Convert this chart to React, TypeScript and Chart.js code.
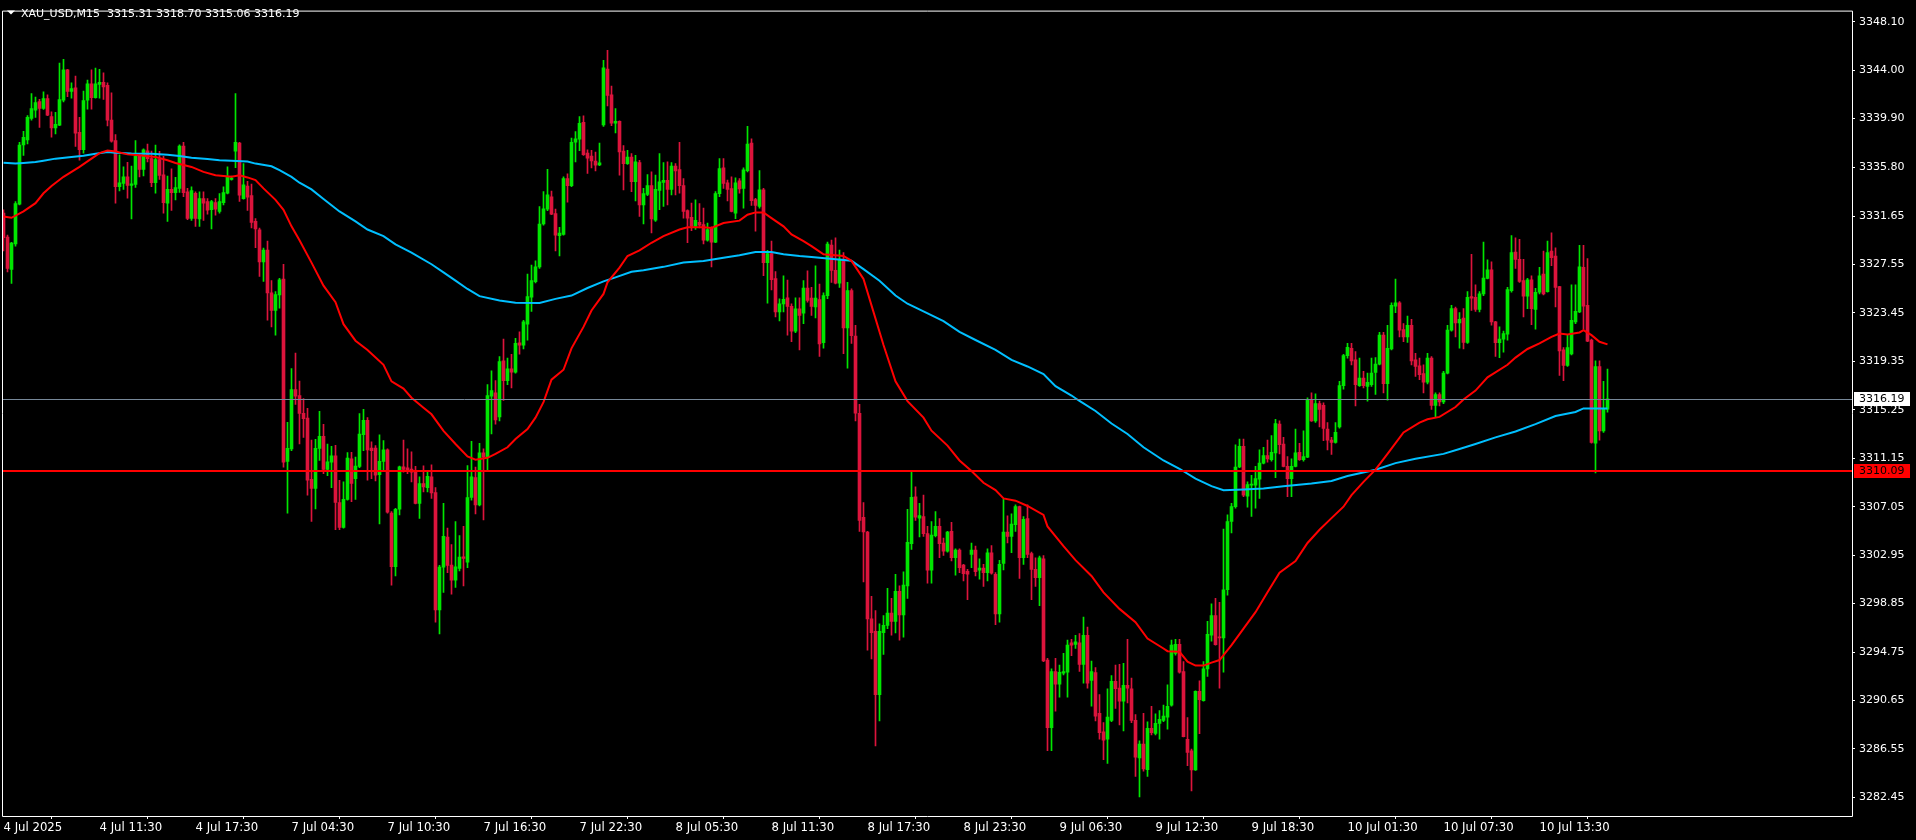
import React, { useEffect, useRef } from "react";
import { Chart, registerables } from "chart.js";

Chart.register(...registerables);

const symbolName = "XAU_USD,M15";

const opens = [
3331.90,3329.86,3327.13,3329.30,3332.65,3337.68,3338.10,3339.91,3340.61,3341.34,
3340.75,3341.59,3340.08,3339.10,3339.35,3341.45,3344.02,3342.20,3342.51,3338.74,
3337.26,3341.45,3342.84,3341.67,3342.79,3342.96,3342.71,3339.77,3338.04,3334.13,
3334.41,3334.97,3334.25,3334.33,3336.70,3335.59,3337.18,3336.51,3334.47,3336.42,
3335.14,3332.74,3333.91,3333.63,3333.99,3337.57,3333.69,3331.45,3333.58,3331.40,
3333.13,3332.88,3332.18,3332.79,3332.04,3332.79,3333.58,3334.75,3337.15,3337.82,
3333.13,3334.19,3333.38,3331.20,3330.48,3327.77,3328.77,3325.15,3323.67,3324.98,
3326.32,3310.88,3311.94,3316.97,3316.46,3314.95,3314.54,3309.37,3308.59,3311.99,
3313.00,3310.21,3310.82,3311.35,3307.39,3305.30,3307.67,3311.10,3309.43,3310.46,
3313.14,3314.37,3312.02,3312.02,3309.76,3310.88,3311.86,3306.50,3301.97,3306.83,
3310.43,3310.35,3310.24,3310.07,3307.33,3309.01,3308.67,3309.57,3308.25,3298.31,
3301.94,3304.48,3302.11,3300.83,3301.83,3302.81,3302.36,3307.83,3309.51,3307.19,
3311.60,3311.19,3316.41,3316.69,3314.65,3319.39,3317.72,3318.72,3318.44,3320.93,
3320.73,3322.49,3324.78,3326.10,3327.35,3330.98,3332.24,3333.27,3331.87,3330.00,
3330.09,3334.83,3334.22,3337.90,3338.16,3339.58,3336.98,3336.73,3336.31,3335.98,
3339.36,3344.10,3341.92,3339.52,3339.66,3337.15,3336.09,3336.65,3334.55,3336.17,
3332.60,3333.49,3334.22,3331.31,3333.83,3334.50,3334.67,3333.91,3335.89,3335.59,
3334.22,3332.12,3331.54,3330.78,3331.12,3330.92,3329.61,3330.64,3329.44,3333.55,
3335.73,3334.47,3333.97,3331.90,3334.64,3333.99,3335.50,3337.82,3333.05,3332.46,
3333.88,3327.71,3328.47,3326.35,3323.53,3324.22,3324.73,3324.00,3321.91,3323.80,
3323.44,3325.56,3324.70,3323.95,3324.59,3320.93,3324.92,3329.20,3327.05,3325.96,
3328.00,3322.19,3325.34,3321.49,3314.96,3306.16,3304.91,3297.56,3296.50,3291.14,
3296.39,3297.00,3298.04,3297.34,3299.88,3297.90,3300.35,3303.93,3307.89,3306.08,
3306.22,3304.77,3301.67,3304.60,3305.38,3303.98,3303.29,3304.96,3302.73,3303.37,
3302.11,3301.58,3303.01,3303.37,3301.67,3301.86,3301.47,3303.15,3301.33,3297.98,
3302.25,3304.91,3304.54,3305.52,3307.06,3302.73,3306.05,3303.09,3301.75,3301.05,
3302.64,3294.07,3288.35,3293.10,3292.03,3292.96,3293.04,3295.52,3295.39,3295.52,
3293.71,3296.17,3292.34,3293.01,3289.55,3287.99,3287.37,3288.96,3292.26,3291.70,
3290.58,3291.92,3291.64,3288.96,3285.78,3286.95,3284.80,3288.29,3287.87,3288.71,
3288.96,3289.24,3290.25,3294.63,3295.41,3293.10,3287.37,3286.39,3284.78,3291.42,
3290.64,3293.32,3296.17,3297.84,3296.03,3295.94,3300.02,3305.80,3307.06,3310.41,
3312.16,3307.95,3308.87,3308.87,3309.37,3310.74,3311.38,3311.02,3311.61,3314.04,
3312.36,3310.46,3309.43,3310.46,3311.66,3311.02,3311.24,3316.05,3314.31,3315.77,
3315.62,3313.62,3312.69,3312.50,3313.81,3317.30,3319.84,3320.46,3319.48,3317.30,
3317.94,3317.24,3317.38,3318.42,3319.12,3321.57,3317.47,3320.40,3324.03,3324.31,
3322.05,3321.43,3322.41,3319.48,3318.98,3318.31,3317.58,3319.62,3315.63,3316.55,
3315.91,3318.36,3321.99,3323.81,3322.61,3323.02,3320.96,3324.84,3324.78,3323.75,
3325.06,3326.37,3327.10,3322.69,3320.93,3321.24,3321.66,3325.34,3328.61,3327.99,
3326.18,3324.87,3326.26,3323.75,3325.20,3326.74,3325.26,3328.69,3328.27,3325.68,
3320.32,3319.00,3319.98,3322.69,3323.53,3327.30,3324.09,3321.15,3312.42,3318.92,
3313.47,3315.31
];

const highs = [
3332.18,3330.03,3329.42,3332.88,3337.90,3338.82,3340.16,3342.01,3341.73,3341.53,
3342.17,3341.92,3340.47,3340.42,3344.60,3344.91,3344.07,3342.93,3343.49,3340.00,
3342.23,3343.15,3344.02,3344.18,3344.07,3343.77,3342.93,3342.09,3338.54,3336.84,
3335.81,3336.20,3335.89,3338.04,3336.87,3337.34,3337.74,3337.15,3337.65,3337.12,
3336.70,3335.03,3335.64,3334.92,3337.68,3337.90,3333.99,3334.13,3333.69,3333.71,
3333.69,3333.13,3332.99,3333.13,3333.55,3334.13,3335.81,3335.03,3342.01,3337.90,
3336.09,3334.58,3334.36,3331.43,3330.64,3328.94,3329.53,3326.18,3325.26,3326.37,
3327.57,3314.20,3318.75,3320.06,3317.69,3316.21,3315.37,3312.69,3312.75,3315.12,
3314.03,3312.36,3312.16,3312.25,3309.29,3309.15,3311.63,3311.66,3311.24,3314.93,
3315.29,3314.59,3312.55,3312.22,3313.14,3312.64,3311.94,3306.63,3306.91,3310.49,
3312.69,3311.94,3311.69,3310.46,3309.57,3310.51,3309.96,3310.60,3308.67,3302.08,
3307.33,3305.24,3303.84,3305.80,3304.60,3305.38,3310.54,3312.58,3310.40,3312.41,
3311.94,3317.38,3318.56,3317.72,3319.76,3321.24,3319.62,3319.95,3321.29,3321.85,
3322.83,3326.74,3327.49,3327.85,3332.46,3333.72,3335.61,3333.77,3332.24,3330.70,
3334.97,3335.22,3338.24,3338.80,3340.08,3340.14,3337.26,3337.21,3337.07,3337.82,
3344.83,3345.67,3342.65,3340.75,3339.72,3337.62,3337.21,3336.93,3336.79,3336.37,
3334.00,3335.17,3335.39,3335.11,3336.93,3336.17,3336.23,3336.17,3336.09,3337.90,
3334.83,3332.18,3332.74,3333.02,3332.71,3332.32,3331.06,3330.73,3333.72,3336.51,
3336.51,3334.69,3334.97,3334.89,3334.83,3335.73,3339.24,3338.18,3333.16,3335.50,
3334.00,3328.75,3329.53,3326.96,3324.64,3326.60,3326.23,3324.22,3324.73,3324.73,
3326.18,3327.02,3325.62,3327.44,3325.90,3325.15,3329.45,3329.61,3329.81,3328.78,
3328.55,3326.04,3325.48,3322.41,3315.71,3307.39,3304.96,3299.46,3298.26,3297.14,
3297.84,3300.13,3299.29,3301.33,3300.35,3301.53,3306.83,3310.07,3308.73,3307.33,
3308.03,3305.38,3305.80,3306.64,3306.05,3304.40,3304.96,3305.72,3303.48,3303.48,
3302.17,3301.75,3303.98,3303.71,3302.64,3302.17,3303.48,3303.76,3301.47,3302.50,
3307.67,3306.27,3306.44,3307.20,3307.11,3306.22,3307.20,3303.20,3302.73,3302.87,
3302.92,3294.21,3293.32,3294.21,3293.65,3294.63,3295.75,3295.83,3296.17,3296.31,
3297.70,3296.86,3293.99,3293.43,3291.14,3288.77,3291.64,3292.76,3293.65,3293.71,
3293.79,3295.83,3292.54,3289.46,3287.23,3289.55,3288.85,3290.16,3289.52,3289.80,
3290.25,3291.98,3295.75,3295.83,3295.83,3293.93,3289.19,3286.53,3291.47,3292.31,
3293.93,3297.34,3298.82,3299.29,3298.96,3305.16,3306.36,3307.34,3312.28,3312.78,
3312.78,3309.15,3309.71,3310.46,3311.86,3312.08,3312.69,3313.06,3314.45,3314.31,
3312.92,3311.30,3311.10,3313.62,3312.42,3313.48,3316.27,3316.69,3316.61,3315.99,
3315.85,3314.18,3312.92,3314.18,3317.66,3319.95,3320.87,3320.87,3320.17,3319.62,
3318.50,3318.36,3319.62,3319.67,3321.80,3321.80,3322.41,3324.31,3326.32,3324.42,
3322.55,3323.19,3322.91,3320.04,3319.62,3319.06,3320.04,3319.76,3316.69,3316.69,
3318.50,3322.41,3324.09,3323.95,3323.47,3323.81,3325.26,3328.41,3325.82,3325.26,
3329.45,3327.94,3327.77,3322.74,3322.27,3321.91,3325.62,3330.00,3329.81,3329.67,
3327.99,3326.37,3326.60,3325.54,3327.30,3328.69,3329.53,3330.23,3328.97,3325.70,
3320.51,3321.57,3325.82,3325.82,3329.17,3329.17,3328.05,3321.24,3319.39,3319.39,
3317.66,3318.70
];

const lows = [
3328.69,3326.93,3325.95,3329.11,3332.60,3336.79,3337.76,3339.77,3340.00,3339.16,
3340.67,3340.14,3338.32,3338.60,3339.30,3341.31,3341.76,3341.62,3337.54,3336.37,
3336.98,3340.69,3340.69,3341.62,3341.62,3341.53,3339.27,3337.90,3332.74,3333.77,
3333.91,3333.16,3331.40,3334.08,3334.97,3335.05,3336.23,3334.13,3333.58,3334.75,
3331.90,3331.20,3332.12,3333.02,3333.66,3333.30,3331.34,3331.29,3330.78,3330.78,
3331.29,3331.82,3330.56,3331.73,3331.90,3332.60,3333.52,3334.69,3335.75,3332.88,
3333.07,3332.12,3330.64,3328.97,3326.54,3326.12,3322.83,3322.27,3321.57,3323.86,
3310.40,3306.50,3311.80,3315.71,3312.36,3312.92,3308.03,3305.80,3306.86,3310.96,
3309.85,3309.68,3308.67,3305.10,3305.10,3305.24,3307.61,3307.47,3307.67,3310.35,
3311.80,3309.29,3309.43,3309.23,3305.60,3310.07,3306.50,3300.41,3301.19,3306.35,
3309.98,3309.85,3309.15,3307.28,3306.05,3308.31,3308.31,3307.75,3297.28,3296.28,
3299.79,3301.47,3299.65,3300.21,3301.61,3300.35,3301.89,3307.61,3306.44,3307.11,
3305.94,3310.12,3313.20,3314.03,3314.31,3316.04,3317.38,3317.10,3318.36,3319.95,
3320.40,3321.15,3323.58,3325.98,3327.21,3330.87,3332.10,3331.76,3328.69,3328.27,
3330.03,3332.82,3334.13,3336.23,3337.18,3336.79,3335.25,3335.73,3335.47,3335.92,
3339.24,3340.98,3339.30,3338.69,3335.11,3333.86,3336.01,3333.72,3332.93,3331.62,
3330.98,3333.38,3330.23,3331.20,3332.18,3332.46,3332.60,3333.44,3333.44,3333.58,
3331.48,3329.39,3330.42,3330.51,3330.64,3329.30,3329.53,3327.35,3329.39,3333.30,
3333.99,3332.93,3331.99,3331.43,3333.58,3332.32,3335.39,3332.54,3330.37,3332.32,
3326.60,3324.28,3325.40,3323.11,3322.77,3323.53,3321.57,3321.01,3321.77,3320.31,
3322.55,3324.36,3323.25,3323.03,3319.76,3320.46,3324.65,3326.04,3325.90,3325.62,
3320.01,3318.78,3320.88,3314.31,3304.96,3300.69,3294.91,3294.16,3286.81,3288.91,
3294.55,3296.73,3296.17,3296.36,3295.75,3296.00,3299.29,3303.43,3305.88,3304.49,
3304.54,3300.58,3300.58,3304.49,3302.73,3302.92,3303.20,3302.45,3301.25,3301.47,
3300.77,3299.18,3301.89,3301.19,3300.91,3300.30,3300.77,3301.33,3297.06,3297.28,
3301.70,3303.98,3303.15,3304.96,3300.97,3302.17,3302.73,3299.18,3300.30,3298.68,
3293.93,3286.39,3286.39,3289.75,3290.92,3292.82,3290.92,3294.44,3295.05,3293.10,
3292.12,3291.70,3290.16,3288.91,3287.37,3285.64,3285.33,3288.85,3289.97,3288.57,
3288.07,3290.44,3288.77,3284.22,3282.48,3284.66,3284.22,3287.73,3287.73,3287.37,
3288.85,3288.21,3290.16,3294.49,3292.95,3287.57,3285.14,3282.99,3284.72,3287.84,
3290.58,3292.68,3295.66,3295.33,3291.70,3293.04,3299.57,3304.82,3306.92,3310.35,
3307.90,3307.00,3306.22,3306.92,3307.75,3310.68,3310.82,3310.91,3309.51,3311.52,
3310.41,3307.90,3307.90,3310.41,3310.97,3310.91,3311.19,3314.26,3314.18,3313.81,
3312.64,3311.86,3311.47,3312.42,3313.70,3317.00,3319.62,3319.06,3315.57,3317.24,
3317.10,3315.99,3317.24,3316.55,3319.06,3316.69,3316.07,3320.32,3323.47,3321.43,
3321.01,3320.96,3319.06,3318.08,3317.80,3316.69,3317.44,3315.29,3314.65,3315.57,
3315.77,3318.28,3321.91,3321.43,3320.46,3320.40,3320.87,3323.66,3323.58,3323.53,
3324.92,3326.32,3322.41,3319.76,3319.67,3320.12,3321.15,3325.20,3327.21,3326.04,
3323.11,3323.81,3322.46,3322.08,3325.06,3324.98,3325.20,3327.44,3323.95,3318.17,
3317.72,3318.92,3319.90,3322.55,3323.47,3322.08,3321.01,3312.42,3309.90,3312.69,
3313.34,3315.06
];

const closes = [
3329.81,3327.21,3329.36,3332.71,3337.65,3338.32,3340.00,3340.75,3341.25,3340.75,
3341.59,3340.19,3339.10,3339.41,3341.50,3344.02,3342.20,3342.43,3338.66,3337.26,
3341.42,3342.84,3341.67,3342.84,3342.96,3342.59,3339.77,3337.99,3334.13,3334.47,
3334.97,3334.25,3334.38,3336.70,3335.59,3337.26,3336.51,3334.47,3336.42,3335.08,
3332.79,3333.91,3333.63,3334.05,3337.57,3333.63,3331.45,3333.80,3331.45,3333.13,
3332.74,3332.15,3332.88,3332.24,3332.88,3333.63,3334.97,3334.86,3337.90,3333.41,
3334.30,3333.24,3331.12,3330.56,3327.77,3328.77,3325.14,3323.67,3325.01,3326.26,
3310.82,3311.99,3316.97,3316.41,3314.95,3314.51,3309.29,3308.59,3311.99,3313.00,
3310.21,3310.85,3311.35,3307.42,3305.30,3307.67,3311.16,3309.01,3310.49,3313.20,
3314.37,3311.86,3311.80,3309.71,3310.90,3311.86,3306.58,3301.97,3306.83,3310.43,
3310.21,3310.12,3309.98,3307.33,3309.01,3308.73,3309.62,3308.22,3298.31,3301.94,
3304.54,3302.08,3300.83,3301.97,3302.78,3302.67,3307.83,3309.57,3307.19,3311.60,
3311.24,3316.46,3316.88,3314.40,3319.34,3317.72,3318.72,3318.44,3320.87,3320.73,
3322.69,3324.84,3326.18,3327.35,3330.98,3332.26,3333.44,3331.82,3330.03,3330.20,
3334.83,3334.22,3337.90,3338.18,3339.50,3336.84,3336.56,3336.31,3335.95,3336.15,
3344.19,3341.87,3339.52,3339.66,3337.07,3336.09,3336.65,3334.55,3336.23,3332.60,
3333.55,3334.22,3331.40,3333.91,3334.55,3334.67,3333.91,3335.89,3335.47,3334.22,
3332.04,3331.48,3330.78,3331.29,3330.87,3329.61,3330.51,3329.44,3333.55,3335.67,
3334.41,3333.91,3332.04,3334.47,3333.94,3335.56,3337.74,3332.96,3332.54,3333.88,
3327.71,3328.47,3326.26,3323.53,3324.22,3324.61,3324.00,3321.91,3323.80,3323.25,
3325.56,3324.50,3324.00,3324.70,3320.82,3324.92,3329.28,3327.05,3325.96,3328.00,
3322.19,3325.34,3321.52,3314.96,3305.88,3304.91,3297.56,3296.39,3291.14,3296.50,
3297.00,3298.04,3297.34,3299.88,3297.90,3300.41,3304.04,3307.84,3306.16,3306.30,
3304.77,3301.67,3304.65,3305.38,3303.93,3303.29,3304.91,3302.73,3303.37,3301.89,
3301.39,3301.33,3303.37,3301.56,3301.86,3301.47,3303.15,3301.42,3297.98,3302.17,
3304.91,3304.54,3305.58,3307.06,3302.73,3305.99,3303.01,3301.75,3301.05,3302.73,
3293.99,3288.35,3293.10,3292.03,3293.04,3293.10,3295.33,3295.33,3295.61,3293.71,
3296.17,3292.12,3293.10,3289.33,3287.93,3287.29,3289.24,3292.26,3291.64,3290.58,
3291.92,3291.70,3288.96,3285.84,3286.95,3284.86,3288.29,3287.93,3288.71,3289.05,
3289.33,3290.16,3295.33,3295.41,3293.04,3287.59,3286.25,3284.78,3291.42,3290.72,
3293.32,3296.25,3297.84,3295.38,3295.94,3300.02,3305.80,3307.06,3310.41,3312.16,
3308.03,3308.92,3308.92,3309.43,3310.74,3311.38,3311.10,3311.66,3314.09,3312.30,
3310.46,3309.43,3310.46,3311.61,3311.02,3311.30,3316.05,3314.31,3315.77,3315.29,
3313.67,3312.69,3312.50,3313.34,3317.30,3319.84,3320.54,3319.39,3317.38,3317.94,
3317.30,3317.58,3318.36,3319.12,3321.57,3317.47,3320.46,3324.09,3324.31,3321.99,
3321.43,3322.41,3319.39,3318.92,3318.22,3317.58,3319.62,3315.63,3316.55,3315.91,
3318.36,3321.99,3323.81,3322.61,3322.91,3320.96,3324.78,3324.70,3323.75,3325.06,
3326.40,3327.10,3322.69,3320.93,3321.24,3321.71,3325.42,3328.55,3327.99,3326.12,
3324.87,3326.26,3323.81,3325.20,3326.60,3325.06,3328.55,3328.13,3325.62,3320.23,
3319.00,3320.51,3322.83,3323.58,3327.35,3324.03,3321.07,3312.50,3318.92,3313.47,
3315.29,3316.19
];

// red moving average, read at these candle positions
const maFastIdx = [0,2,5,8,10,12,15,17,19,22,24,26,28,31,34,38,41,43,47,50,53,57,59,61,63,65,68,70,72,74,77,80,83,85,88,91,95,97,100,102,105,107,110,113,116,118,121,123,126,128,131,133,135,137,140,142,145,147,150,151,154,156,159,162,165,169,171,175,177,180,184,186,188,190,192,195,197,200,202,205,210,212,215,217,220,223,226,230,232,236,239,242,245,248,250,253,256,260,261,265,268,272,275,279,283,286,290,291,294,296,298,300,302,304,307,310,313,316,319,323,326,329,332,335,337,340,343,346,350,354,356,359,363,365,368,371,376,378,381,384,387,389,391,394,395,397,399,401];
const maFastVal = [3331.62,3331.50,3332.04,3332.74,3333.58,3334.19,3334.97,3335.39,3335.81,3336.51,3336.98,3337.20,3337.12,3336.87,3336.79,3336.65,3336.37,3336.14,3335.81,3335.39,3335.11,3334.97,3335.11,3334.92,3334.69,3333.99,3333.02,3332.18,3330.78,3329.60,3327.71,3325.76,3324.36,3322.50,3321.10,3320.32,3319.06,3317.66,3317.05,3316.27,3315.43,3314.87,3313.47,3312.36,3311.30,3311.02,3311.19,3311.52,3312.08,3312.78,3313.62,3314.59,3315.90,3317.80,3318.64,3320.45,3322.27,3323.66,3325.06,3326.04,3327.29,3328.27,3328.75,3329.39,3329.95,3330.51,3330.70,3330.70,3330.64,3331.06,3331.26,3331.76,3331.96,3331.96,3331.48,3330.78,3330.09,3329.53,3329.11,3328.41,3328.27,3327.86,3326.32,3324.09,3320.74,3317.67,3315.99,3314.59,3313.48,3312.22,3310.96,3310.07,3309.07,3308.45,3307.75,3307.56,3307.11,3306.36,3305.38,3303.71,3302.53,3301.19,3299.80,3298.40,3297.28,3295.89,3295.05,3294.82,3294.77,3293.93,3293.60,3293.60,3293.85,3294.07,3295.33,3296.73,3298.12,3299.80,3301.47,3302.45,3303.98,3305.10,3306.08,3307.05,3308.03,3309.15,3310.18,3311.52,3313.33,3314.17,3314.45,3314.65,3315.49,3316.13,3316.88,3318.00,3319.06,3319.67,3320.40,3320.87,3321.43,3321.71,3321.63,3321.80,3321.99,3321.57,3321.01,3320.79];

// light blue moving average, read at these candle positions
const maSlowIdx = [0,3,5,8,10,13,17,20,23,26,28,32,37,41,44,47,51,54,57,61,63,67,69,72,74,77,80,84,88,91,95,98,102,107,110,113,116,119,124,128,134,138,142,146,150,153,157,160,165,170,175,180,184,188,192,195,199,202,206,212,215,219,223,226,230,235,239,243,248,252,256,260,263,267,269,273,277,281,285,290,294,298,302,305,310,315,320,327,332,336,343,348,353,360,364,368,373,378,383,388,393,395,401];
const maSlowVal = [3336.17,3336.09,3336.14,3336.23,3336.34,3336.51,3336.65,3336.76,3336.93,3337.07,3337.01,3336.95,3336.93,3336.84,3336.73,3336.59,3336.48,3336.37,3336.34,3336.26,3336.09,3335.86,3335.53,3334.97,3334.47,3333.91,3333.10,3332.04,3331.20,3330.51,3329.95,3329.25,3328.55,3327.57,3326.88,3326.18,3325.48,3324.87,3324.50,3324.31,3324.30,3324.64,3324.92,3325.56,3326.12,3326.46,3326.93,3327.07,3327.35,3327.71,3327.85,3328.13,3328.33,3328.61,3328.61,3328.41,3328.27,3328.19,3328.05,3327.86,3327.16,3326.18,3324.92,3324.23,3323.58,3322.75,3321.85,3321.16,3320.32,3319.48,3318.92,3318.28,3317.25,3316.46,3316.00,3315.15,3314.09,3313.20,3312.08,3310.96,3310.26,3309.43,3308.79,3308.45,3308.51,3308.59,3308.79,3309.01,3309.23,3309.65,3310.18,3310.74,3311.10,3311.52,3311.94,3312.36,3312.92,3313.42,3314.04,3314.73,3315.07,3315.37,3315.37];

const xTickIndex = [0,24,48,72,96,120,144,168,192,216,240,264,288,312,336,360,384];
const xTickLabels = ["4 Jul 2025","4 Jul 11:30","4 Jul 17:30","7 Jul 04:30","7 Jul 10:30","7 Jul 16:30","7 Jul 22:30","8 Jul 05:30","8 Jul 11:30","8 Jul 17:30","8 Jul 23:30","9 Jul 06:30","9 Jul 12:30","9 Jul 18:30","10 Jul 01:30","10 Jul 07:30","10 Jul 13:30"];
const yTickValues = [3348.10,3344.00,3339.90,3335.80,3331.65,3327.55,3323.45,3319.35,3315.25,3311.15,3307.05,3302.95,3298.85,3294.75,3290.65,3286.55,3282.45];

const bidLevel = 3316.19;
const alertLevel = 3310.09;

const Y_MIN = 3280.87;
const Y_MAX = 3349.04;
const X_MIN = -0.375;
const X_MAX = 462.125;

const UP = "#00e600";
const DOWN = "#dc143c";
const MA_FAST = "#ff0000";
const MA_SLOW = "#00bfff";
const BID_LINE = "#778899";

const decorPlugin = {
  id: "decor",
  beforeDraw(chart: any) {
    const { ctx, width, height } = chart;
    ctx.save();
    ctx.fillStyle = "#000000";
    ctx.fillRect(0, 0, width, height);
    ctx.restore();
  },
  afterDatasetsDraw(chart: any) {
    const { ctx, chartArea } = chart;
    const ys = chart.scales.y;
    ctx.save();
    const yb = Math.round(ys.getPixelForValue(bidLevel)) + 0.5;
    ctx.strokeStyle = BID_LINE;
    ctx.lineWidth = 1;
    ctx.beginPath();
    ctx.moveTo(chartArea.left, yb);
    ctx.lineTo(chartArea.right, yb);
    ctx.stroke();
    const ya = Math.round(ys.getPixelForValue(alertLevel));
    ctx.strokeStyle = "#ff0000";
    ctx.lineWidth = 2;
    ctx.beginPath();
    ctx.moveTo(chartArea.left, ya);
    ctx.lineTo(chartArea.right, ya);
    ctx.stroke();
    ctx.restore();
  },
  afterDraw(chart: any) {
    const { ctx, chartArea } = chart;
    const ys = chart.scales.y;
    ctx.save();
    // frame
    ctx.strokeStyle = "#ffffff";
    ctx.lineWidth = 1;
    ctx.beginPath();
    ctx.moveTo(chartArea.left + 0.5, chartArea.top + 0.5);
    ctx.lineTo(chartArea.right + 0.5, chartArea.top + 0.5);
    ctx.lineTo(chartArea.right + 0.5, chartArea.bottom + 0.5);
    ctx.lineTo(chartArea.left + 0.5, chartArea.bottom + 0.5);
    ctx.closePath();
    ctx.stroke();

    // price boxes
    ctx.font = "11px 'DejaVu Sans'";
    ctx.textBaseline = "middle";
    ctx.textAlign = "left";
    const yb = Math.round(ys.getPixelForValue(bidLevel));
    ctx.fillStyle = "#ffffff";
    ctx.fillRect(chartArea.right + 2, yb - 7, 56, 14);
    ctx.fillStyle = "#000000";
    ctx.fillText(bidLevel.toFixed(2), chartArea.right + 7, yb + 0.5);
    const ya = Math.round(ys.getPixelForValue(alertLevel));
    ctx.fillStyle = "#ff0000";
    ctx.fillRect(chartArea.right + 2, ya - 7, 56, 14);
    ctx.fillStyle = "#000000";
    ctx.fillText(alertLevel.toFixed(2), chartArea.right + 7, ya + 0.5);

    // header
    const last = closes.length - 1;
    ctx.fillStyle = "#ffffff";
    ctx.beginPath();
    ctx.moveTo(7, 10.5);
    ctx.lineTo(15, 10.5);
    ctx.lineTo(11, 14.5);
    ctx.closePath();
    ctx.fill();
    ctx.textBaseline = "alphabetic";
    ctx.fillText(
      `${symbolName}  ${opens[last].toFixed(2)} ${highs[last].toFixed(2)} ${lows[last].toFixed(2)} ${closes[last].toFixed(2)}`,
      21,
      16.5
    );
    ctx.restore();
  },
};

export default function App() {
  const canvasRef = useRef<HTMLCanvasElement | null>(null);

  useEffect(() => {
    document.body.style.margin = "0";
    document.body.style.background = "#000";
    document.body.style.overflow = "hidden";
    const canvas = canvasRef.current;
    if (!canvas) return;

    const n = closes.length;
    const bodies = [];
    const wicks = [];
    const colors = [];
    for (let i = 0; i < n; i++) {
      bodies.push({ x: i, y: [opens[i], closes[i]] });
      wicks.push({ x: i, y: [lows[i], highs[i]] });
      colors.push(closes[i] >= opens[i] ? UP : DOWN);
    }
    const fast = maFastIdx.map((x, k) => ({ x, y: maFastVal[k] }));
    const slow = maSlowIdx.map((x, k) => ({ x, y: maSlowVal[k] }));

    const chart = new Chart(canvas, {
      type: "bar",
      data: {
        datasets: [
          {
            type: "line",
            data: fast,
            borderColor: MA_FAST,
            borderWidth: 2,
            pointRadius: 0,
            tension: 0,
            order: 0,
          } as any,
          {
            type: "line",
            data: slow,
            borderColor: MA_SLOW,
            borderWidth: 2,
            pointRadius: 0,
            tension: 0,
            order: 1,
          } as any,
          {
            type: "bar",
            data: bodies,
            backgroundColor: colors,
            borderWidth: 0,
            barThickness: 3,
            grouped: false,
            minBarLength: 1,
            order: 2,
          } as any,
          {
            type: "bar",
            data: wicks,
            backgroundColor: colors,
            borderWidth: 0,
            barThickness: 1,
            grouped: false,
            minBarLength: 1,
            order: 3,
          } as any,
        ],
      },
      options: {
        animation: false,
        responsive: false,
        devicePixelRatio: 1,
        layout: { padding: { left: 2, top: 2, right: 0, bottom: 0 } },
        plugins: {
          legend: { display: false },
          tooltip: { enabled: false },
        },
        scales: {
          x: {
            type: "linear",
            min: X_MIN,
            max: X_MAX,
            offset: false,
            afterBuildTicks: (s: any) => {
              s.ticks = xTickIndex.map((v) => ({ value: v }));
            },
            afterFit: (s: any) => {
              s.height = 24;
            },
            grid: {
              display: true,
              drawOnChartArea: false,
              drawTicks: true,
              tickLength: 3,
              color: "#ffffff",
            },
            border: { display: false },
            ticks: {
              autoSkip: false,
              maxRotation: 0,
              minRotation: 0,
              align: "start",
              padding: 1,
              color: "#ffffff",
              font: { family: "'DejaVu Sans Condensed', 'DejaVu Sans'", size: 13 },
              callback: (_v: any, i: number) => xTickLabels[i],
            },
          },
          y: {
            type: "linear",
            position: "right",
            min: Y_MIN,
            max: Y_MAX,
            afterBuildTicks: (s: any) => {
              s.ticks = yTickValues.map((v) => ({ value: v }));
            },
            afterFit: (s: any) => {
              s.width = 64;
            },
            grid: {
              display: true,
              drawOnChartArea: false,
              drawTicks: true,
              tickLength: 3,
              color: "#ffffff",
            },
            border: { display: false },
            ticks: {
              autoSkip: false,
              padding: 4,
              color: "#ffffff",
              font: { family: "'DejaVu Sans'", size: 11 },
              callback: (v: any) => Number(v).toFixed(2),
            },
          },
        },
      } as any,
      plugins: [decorPlugin],
    });

    return () => {
      chart.destroy();
    };
  }, []);

  return (
    <div style={{ width: 1916, height: 840, background: "#000" }}>
      <canvas ref={canvasRef} width={1916} height={840} style={{ display: "block" }} />
    </div>
  );
}
